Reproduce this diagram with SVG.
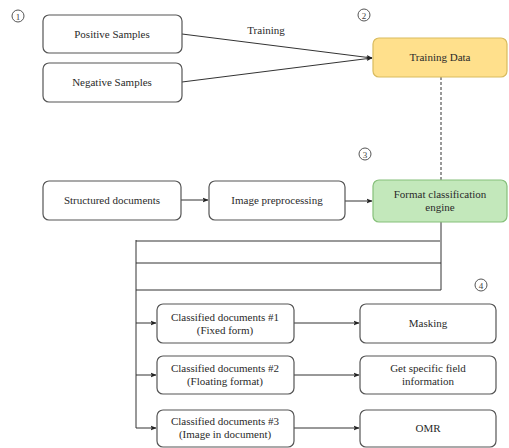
<svg xmlns="http://www.w3.org/2000/svg" width="509" height="448" viewBox="0 0 509 448">
<defs>
<marker id="ah" viewBox="0 0 10 10" refX="9" refY="5" markerWidth="6" markerHeight="6" orient="auto" markerUnits="userSpaceOnUse"><path d="M0,1 L10,5 L0,9 L2,5 Z" fill="#222"/></marker>
<style>
.box{fill:#fff;stroke:#555;stroke-width:1.2}
.yel{fill:#FFE08C;stroke:#D9BB5E;stroke-width:1.2}
.grn{fill:#C3E8BB;stroke:#86C07A;stroke-width:1.2}
.t{font-family:"Liberation Serif",serif;font-size:11px;fill:#2a2a2a;text-anchor:middle}
.c{fill:none;stroke:#333;stroke-width:1}
.ln{fill:none;stroke:#333;stroke-width:1}
.num{fill:none;stroke:#555;stroke-width:1}
.nt{font-family:"Liberation Serif",serif;font-size:9px;fill:#444;text-anchor:middle}
</style>
</defs>
<rect width="509" height="448" fill="#fff"/>
<g id="labels">
<circle class="num" cx="18" cy="16" r="6"/><text class="nt" x="18" y="19.5">1</text>
<circle class="num" cx="364" cy="15" r="6"/><text class="nt" x="364" y="18.5">2</text>
<circle class="num" cx="365" cy="154" r="6"/><text class="nt" x="365" y="157.5">3</text>
<circle class="num" cx="481" cy="285" r="6"/><text class="nt" x="481" y="288.5">4</text>
<text class="t" x="266" y="34">Training</text>
</g>
<g id="connectors">
<path class="c" d="M182,34 L372,58" marker-end="url(#ah)"/>
<path class="c" d="M182,82 L372,58" marker-end="url(#ah)"/>
<path class="c" d="M441,77 L441,180" stroke-dasharray="3,2"/>
<path class="c" d="M181,200 L208,200" marker-end="url(#ah)"/>
<path class="c" d="M345,201 L372,201" marker-end="url(#ah)"/>
<path class="ln" d="M441,222 L441,290 L136,290"/>
<path d="M136,241 L441,241" stroke="#999" stroke-width="2" fill="none"/>
<path class="ln" d="M136,263 L441,263"/>
<path class="ln" d="M136,240 L136,428"/>
<path class="c" d="M136,323 L156,323" marker-end="url(#ah)"/>
<path class="c" d="M136,375 L156,375" marker-end="url(#ah)"/>
<path class="c" d="M136,428 L156,428" marker-end="url(#ah)"/>
<path class="c" d="M294,323 L359,323" marker-end="url(#ah)"/>
<path class="c" d="M294,375 L359,375" marker-end="url(#ah)"/>
<path class="c" d="M294,428 L359,428" marker-end="url(#ah)"/>
</g>
<g id="pos"><rect class="box" x="43" y="15" width="139" height="38" rx="6"/><text class="t" x="112" y="38">Positive Samples</text></g>
<g id="neg"><rect class="box" x="43" y="63" width="139" height="39" rx="6"/><text class="t" x="112" y="86">Negative Samples</text></g>
<g id="train"><rect class="yel" x="373" y="38" width="134" height="39" rx="6"/><text class="t" x="440" y="61">Training Data</text></g>
<g id="struct"><rect class="box" x="43" y="181" width="138" height="39" rx="6"/><text class="t" x="112" y="204">Structured documents</text></g>
<g id="prep"><rect class="box" x="209" y="181" width="136" height="39" rx="6"/><text class="t" x="277" y="204">Image preprocessing</text></g>
<g id="engine"><rect class="grn" x="373" y="180" width="134" height="42" rx="6"/><text class="t" x="440" y="198">Format classification</text><text class="t" x="440" y="211">engine</text></g>
<g id="cd1"><rect class="box" x="157" y="304" width="137" height="39" rx="6"/><text class="t" x="225" y="321">Classified documents #1</text><text class="t" x="225" y="334">(Fixed form)</text></g>
<g id="mask"><rect class="box" x="360" y="304" width="136" height="39" rx="6"/><text class="t" x="428" y="327">Masking</text></g>
<g id="cd2"><rect class="box" x="157" y="356" width="137" height="38" rx="6"/><text class="t" x="225" y="372">Classified documents #2</text><text class="t" x="225" y="385">(Floating format)</text></g>
<g id="field"><rect class="box" x="360" y="356" width="136" height="38" rx="6"/><text class="t" x="428" y="372">Get specific field</text><text class="t" x="428" y="385">information</text></g>
<g id="cd3"><rect class="box" x="157" y="410" width="137" height="37" rx="6"/><text class="t" x="225" y="425">Classified documents #3</text><text class="t" x="225" y="438">(Image in document)</text></g>
<g id="omr"><rect class="box" x="360" y="410" width="136" height="37" rx="6"/><text class="t" x="428" y="432">OMR</text></g>
</svg>
